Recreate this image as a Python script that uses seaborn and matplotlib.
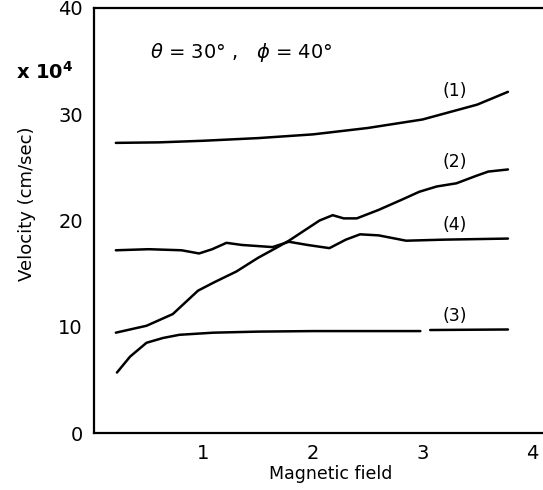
import matplotlib
matplotlib.use("Agg")
import matplotlib.pyplot as plt
import pandas as pd
import seaborn as sns

# Values (velocity in units of 1e4 cm/sec)
x_curve1 = [0.2, 0.6, 1.0, 1.5, 2.0, 2.5, 3.0, 3.5, 3.78]
y_curve1 = [27.3, 27.35, 27.5, 27.75, 28.1, 28.7, 29.5, 30.9, 32.1]

x_curve2 = [0.2, 0.48, 0.72, 0.95, 1.1, 1.3, 1.5, 1.66, 1.78, 2.06, 2.18,
            2.28, 2.4, 2.6, 2.82, 2.97, 3.13, 3.31, 3.49, 3.6, 3.78]
y_curve2 = [9.45, 10.1, 11.2, 13.4, 14.2, 15.2, 16.5, 17.4, 18.1, 20.0, 20.5,
            20.2, 20.2, 21.0, 22.0, 22.7, 23.2, 23.5, 24.2, 24.6, 24.8]

# curve (3) has a small gap near B = 3
x_curve3a = [0.21, 0.33, 0.48, 0.63, 0.78, 1.09, 1.5, 2.0, 2.98]
y_curve3a = [5.7, 7.2, 8.5, 8.95, 9.25, 9.45, 9.55, 9.6, 9.6]
x_curve3b = [3.07, 3.78]
y_curve3b = [9.7, 9.75]

x_curve4 = [0.2, 0.5, 0.8, 0.96, 1.08, 1.21, 1.35, 1.63, 1.78, 1.95, 2.15,
            2.3, 2.43, 2.6, 2.85, 3.2, 3.78]
y_curve4 = [17.2, 17.3, 17.2, 16.9, 17.3, 17.9, 17.7, 17.5, 18.0, 17.7, 17.4,
            18.2, 18.7, 18.6, 18.1, 18.2, 18.3]

curve_labels = ["(1)", "(2)", "(3)", "(4)"]
label_x = [3.29, 3.29, 3.29, 3.29]
label_y = [32.2, 25.5, 11.0, 19.6]

x_ticks = [1, 2, 3, 4]
y_ticks = [0, 10, 20, 30, 40]

segments = [
    ("1", x_curve1, y_curve1),
    ("2", x_curve2, y_curve2),
    ("3a", x_curve3a, y_curve3a),
    ("3b", x_curve3b, y_curve3b),
    ("4", x_curve4, y_curve4),
]
rows = []
for name, xs, ys in segments:
    for xv, yv in zip(xs, ys):
        rows.append({"segment": name, "field": xv, "velocity": yv})
df = pd.DataFrame(rows)

sns.set_style("white")
plt.rcParams["font.family"] = ["DejaVu Sans"]
plt.rcParams["text.color"] = "black"
plt.rcParams["axes.labelcolor"] = "black"
plt.rcParams["xtick.color"] = "black"
plt.rcParams["ytick.color"] = "black"

fig = plt.figure(figsize=(5.43, 4.90), dpi=100)
ax = fig.add_axes([0.173, 0.116, 0.827, 0.868])

sns.lineplot(data=df, x="field", y="velocity", units="segment",
             estimator=None, color="black", linewidth=1.8, ax=ax,
             legend=False, sort=False)

for lab, lx, ly in zip(curve_labels, label_x, label_y):
    ax.text(lx, ly, lab, fontsize=12.5, ha="center", va="center")

ax.text(0.51, 35.8, r"$\theta$ = 30° ,   $\phi$ = 40°", fontsize=14,
        ha="left", va="center")
fig.text(0.03, 0.853, r"x 10$^{\mathbf{4}}$", fontsize=14, fontweight="bold",
         ha="left", va="center")

ax.set_xlim(0, 4.1)
ax.set_ylim(0, 40)
ax.set_xticks(x_ticks)
ax.set_yticks(y_ticks)
ax.tick_params(direction="in", length=12, width=1.2, labelsize=14, pad=8)
ax.tick_params(axis="x", pad=8)

for side in ["left", "bottom", "top"]:
    ax.spines[side].set_color("black")
    ax.spines[side].set_linewidth(1.6)
ax.spines["right"].set_visible(False)

ax.set_xlabel("Magnetic field", fontsize=12.5)
ax.set_ylabel("Velocity (cm/sec)", fontsize=13)
ax.xaxis.set_label_coords(0.528, -0.075)
ax.yaxis.set_label_coords(-0.13, 0.54)

fig.savefig("out.png", dpi=100)
plt.close(fig)
